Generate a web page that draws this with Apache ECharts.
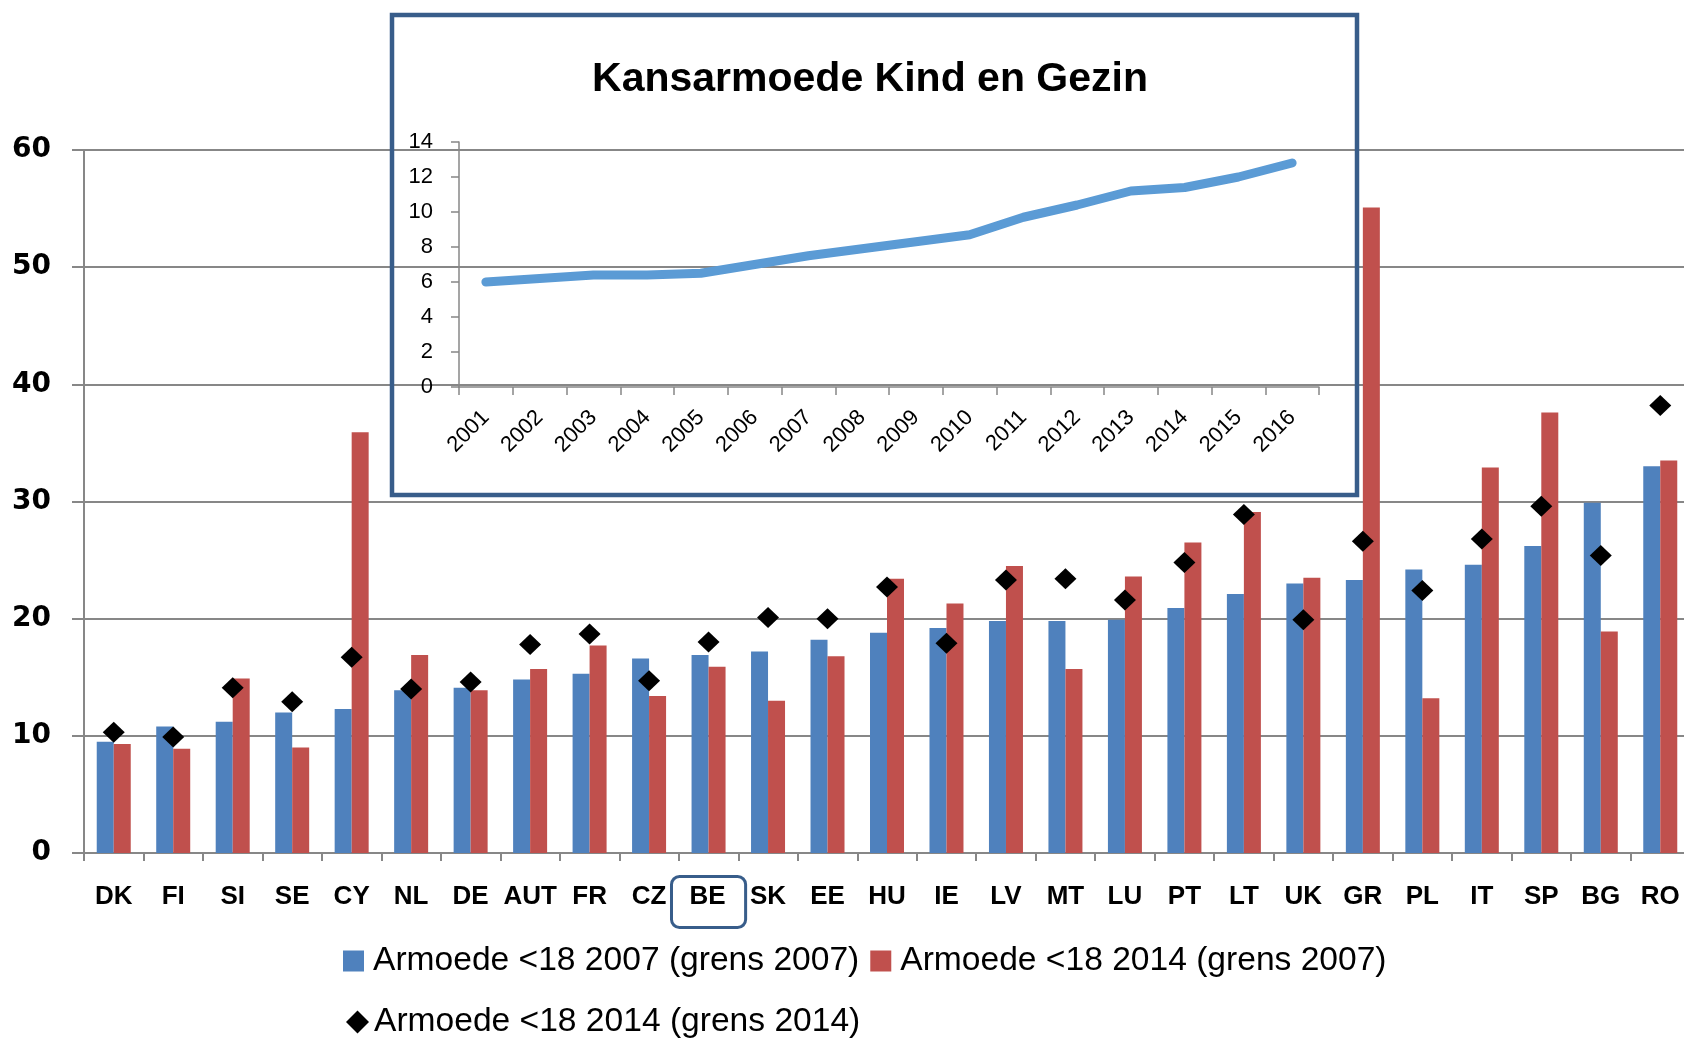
<!DOCTYPE html>
<html>
<head>
<meta charset="utf-8">
<script src="https://cdn.jsdelivr.net/npm/echarts@6/dist/echarts.min.js"></script>
<style>
html,body{margin:0;padding:0;background:#fff;}
#chart{width:1684px;height:1038px;}
</style>
</head>
<body>
<div id="chart"></div>
<script>
// ---- data ----
const countries = ['DK','FI','SI','SE','CY','NL','DE','AUT','FR','CZ','BE','SK','EE','HU','IE','LV','MT','LU','PT','LT','UK','GR','PL','IT','SP','BG','RO'];
const poverty2007 = [9.5,10.8,11.2,12.0,12.3,13.9,14.1,14.8,15.3,16.6,16.9,17.2,18.2,18.8,19.2,19.8,19.8,19.9,20.9,22.1,23.0,23.3,24.2,24.6,26.2,29.9,33.0];
const poverty2014Line2007 = [9.3,8.9,14.9,9.0,35.9,16.9,13.9,15.7,17.7,13.4,15.9,13.0,16.8,23.4,21.3,24.5,15.7,23.6,26.5,29.1,23.5,55.1,13.2,32.9,37.6,18.9,33.5];
const poverty2014Line2014 = [10.3,9.9,14.1,12.9,16.7,14.0,14.6,17.8,18.7,14.7,18.0,20.1,20.0,22.7,17.9,23.3,23.4,21.6,24.8,28.9,19.9,26.6,22.4,26.8,29.6,25.4,38.2];
const seriesNames = ['Armoede <18 2007 (grens 2007)','Armoede <18 2014 (grens 2007)','Armoede <18 2014 (grens 2014)'];
const mainTicks = [0,10,20,30,40,50,60];

const years = ['2001','2002','2003','2004','2005','2006','2007','2008','2009','2010','2011','2012','2013','2014','2015','2016'];
const kansarmoede = [6.0,6.2,6.4,6.4,6.5,7.0,7.5,7.9,8.3,8.7,9.7,10.4,11.2,11.4,12.0,12.8];
const insetTitle = 'Kansarmoede Kind en Gezin';
const highlighted = 'BE';

// ---- chart ----
const chart = echarts.init(document.getElementById('chart'), null, {renderer:'canvas'});
const gray = '#878787';
const boxBlue = '#385D8A';
const labelFont = {fontFamily:'Liberation Sans', fontWeight:'bold', fontSize:26, lineHeight:26, color:'#000'};

const option = {
  backgroundColor:'#ffffff',
  animation:false,
  grid:[
    {left:84, top:150, width:1606, height:703, outerBoundsMode:'none', containLabel:false},
    {left:459, top:142, width:860, height:245, outerBoundsMode:'none', containLabel:false}
  ],
  xAxis:[
    {
      gridIndex:0, type:'category', data:countries,
      axisLine:{show:true, lineStyle:{color:gray, width:2}},
      axisTick:{show:true, length:8, interval:0, alignWithLabel:false, lineStyle:{color:gray, width:2}},
      axisLabel:{
        interval:0, margin:36, color:'#000',
        formatter:function(v){ return v === highlighted ? '{hl|' + v + '}' : '{n|' + v + '}'; },
        rich:{
          n:Object.assign({borderColor:'transparent', borderWidth:3, padding:[7,0,18,0]}, labelFont),
          hl:Object.assign({borderColor:boxBlue, borderWidth:3, borderRadius:8, padding:[7,20,18,18]}, labelFont)
        }
      }
    },
    {
      gridIndex:1, type:'category', data:years, boundaryGap:true,
      axisLine:{show:true, lineStyle:{color:gray, width:1.5}},
      axisTick:{show:true, length:8, interval:0, lineStyle:{color:gray, width:1.5}},
      axisLabel:{interval:0, rotate:45, margin:27, fontFamily:'Liberation Sans', fontSize:22, color:'#000'}
    }
  ],
  yAxis:[
    {
      gridIndex:0, type:'value', min:mainTicks[0], max:mainTicks[mainTicks.length-1], interval:10,
      axisLine:{show:true, lineStyle:{color:gray, width:2}},
      axisTick:{show:true, length:12, lineStyle:{color:gray, width:2}},
      splitLine:{show:true, lineStyle:{color:gray, width:2}},
      axisLabel:{margin:33, fontFamily:'DejaVu Sans', fontWeight:'bold', fontSize:28, color:'#000'}
    },
    {
      gridIndex:1, type:'value', min:0, max:14, interval:2,
      axisLine:{show:true, lineStyle:{color:gray, width:1.5}},
      axisTick:{show:true, length:8, lineStyle:{color:gray, width:1.5}},
      splitLine:{show:false},
      axisLabel:{margin:26, fontFamily:'Liberation Sans', fontSize:22, color:'#000'}
    }
  ],
  legend:[
    {
      data:[seriesNames[0], seriesNames[1]], left:338, top:939, orient:'horizontal',
      icon:'rect', itemWidth:21, itemHeight:21, itemGap:11, selectedMode:false,
      textStyle:{fontFamily:'Liberation Sans', fontSize:33.6, color:'#000', padding:[0,0,0,4]}
    },
    {
      data:[seriesNames[2]], left:341, top:1000, orient:'horizontal',
      icon:'diamond', itemWidth:23, itemHeight:23, selectedMode:false,
      textStyle:{fontFamily:'Liberation Sans', fontSize:33.6, color:'#000', padding:[0,0,0,0]}
    }
  ],
  graphic:[
    {type:'rect', z:10, shape:{x:392, y:15, width:965, height:480},
     style:{fill:'none', stroke:boxBlue, lineWidth:4.5}},
    {type:'text', z:10, x:870, y:80,
     style:{text:insetTitle, align:'center', verticalAlign:'middle',
            font:'bold 41px "Liberation Sans"', fill:'#000'}}
  ],
  series:[
    {name:seriesNames[0], type:'bar', xAxisIndex:0, yAxisIndex:0, data:poverty2007,
     barWidth:17, barGap:'0%', itemStyle:{color:'#4F81BD'}},
    {name:seriesNames[1], type:'bar', xAxisIndex:0, yAxisIndex:0, data:poverty2014Line2007,
     barWidth:17, barGap:'0%', itemStyle:{color:'#C0504D'}},
    {name:seriesNames[2], type:'scatter', xAxisIndex:0, yAxisIndex:0, data:poverty2014Line2014,
     symbol:'diamond', symbolSize:[22,21], itemStyle:{color:'#000', opacity:1}, z:5},
    {name:insetTitle, type:'line', xAxisIndex:1, yAxisIndex:1, data:kansarmoede,
     symbol:'none', showSymbol:false, smooth:false,
     lineStyle:{color:'#5B9BD5', width:9, cap:'round', join:'round'}, z:6}
  ]
};
chart.setOption(option);
</script>
</body>
</html>
